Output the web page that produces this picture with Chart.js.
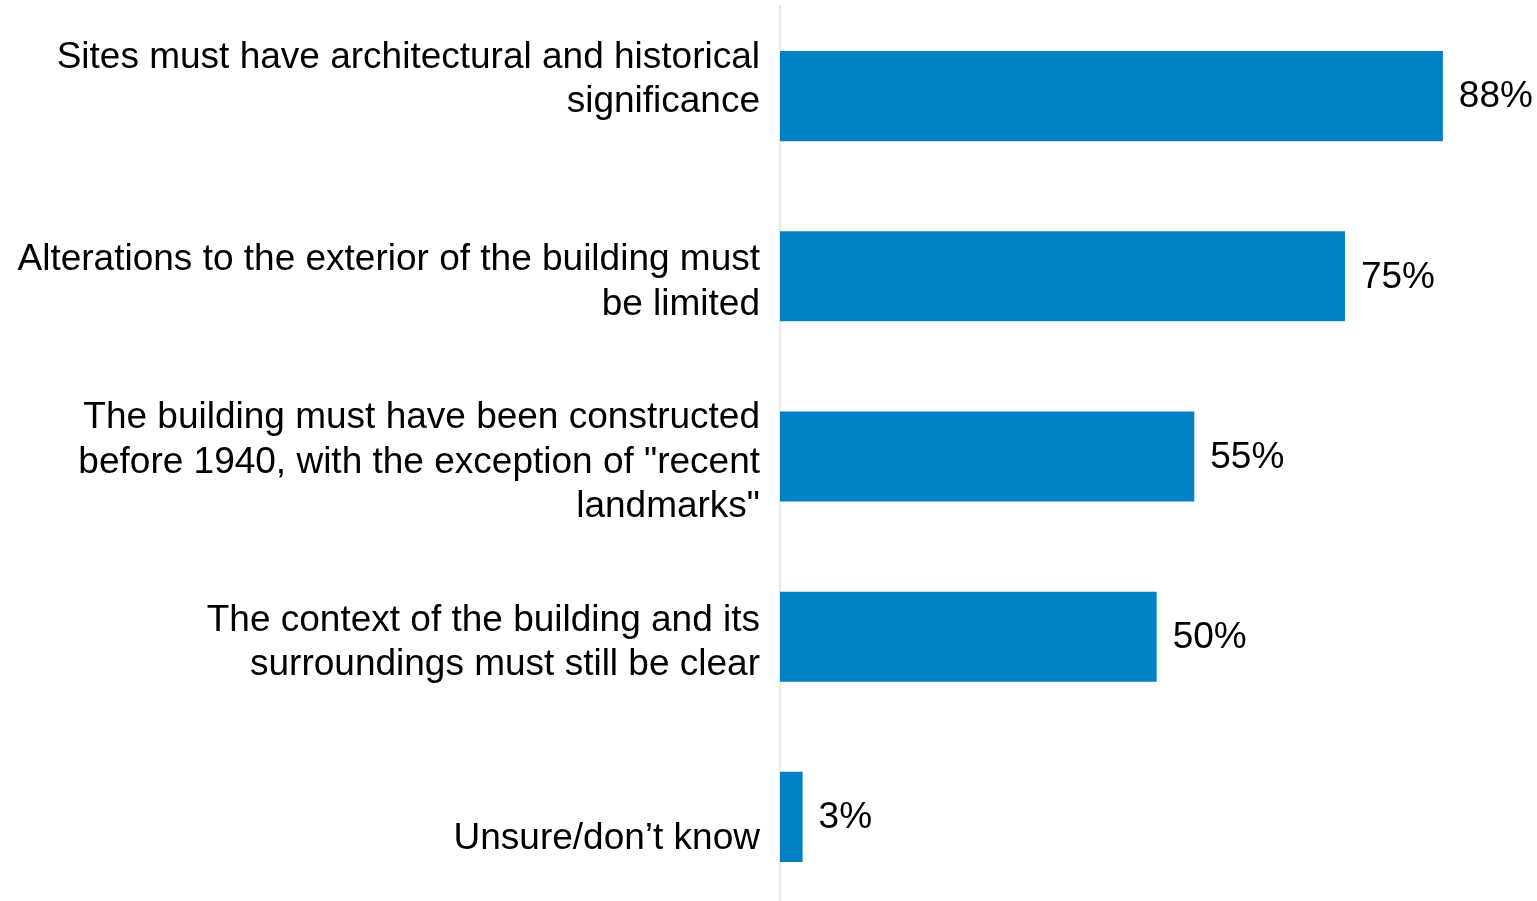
<!DOCTYPE html>
<html>
<head>
<meta charset="utf-8">
<script src="https://cdn.jsdelivr.net/npm/chart.js@4/dist/chart.umd.min.js"></script>
<style>
  html, body { margin: 0; padding: 0; background: #fff; overflow: hidden; }
  #wrap { width: 1537px; height: 908px; position: relative; }
</style>
</head>
<body>
<div id="wrap"><canvas id="criteriaChart"></canvas></div>
<script>
// categories (multi-line labels, as wrapped in the original)
const categories = [
    ["Sites must have architectural and historical", "significance", ""],
    ["Alterations to the exterior of the building must", "be limited"],
    ["The building must have been constructed", "before 1940, with the exception of \"recent", "landmarks\""],
    ["The context of the building and its", "surroundings must still be clear"],
    ["", "Unsure/don\u2019t know"]
];
const percentages = [88, 75, 55, 50, 3];
const axisMin = 0;
const axisMax = 99.7;

const barColor = "#0081c6";
const fontFamily = "'Liberation Sans', Arial, sans-serif";

// draws the "88%" style labels to the right of each bar
const valueLabels = {
    id: "valueLabels",
    afterDatasetsDraw(chart) {
        const ctx = chart.ctx;
        const meta = chart.getDatasetMeta(0);
        ctx.save();
        ctx.font = "37px " + fontFamily;
        ctx.fillStyle = "#000";
        ctx.textAlign = "left";
        ctx.textBaseline = "middle";
        meta.data.forEach((bar, i) => {
            ctx.fillText(percentages[i] + "%", bar.x + 16, bar.y + 1);
        });
        ctx.restore();
    }
};

const ctx = document.getElementById("criteriaChart").getContext("2d");
new Chart(ctx, {
    type: "bar",
    data: {
        labels: categories,
        datasets: [{
            data: percentages,
            backgroundColor: barColor,
            borderWidth: 0,
            categoryPercentage: 0.5,
            barPercentage: 1
        }]
    },
    options: {
        indexAxis: "y",
        responsive: true,
        maintainAspectRatio: false,
        animation: false,
        layout: { padding: { top: 6, right: 6, bottom: 1, left: 0 } },
        plugins: {
            legend: { display: false },
            tooltip: { enabled: false }
        },
        scales: {
            x: {
                display: false,
                min: axisMin,
                max: axisMax
            },
            y: {
                grid: { display: false, drawTicks: false },
                border: { display: true, color: "#ece8df", width: 2 },
                ticks: {
                    color: "#000",
                    padding: 20,
                    labelOffset: 6,
                    font: (c) => ({
                        family: fontFamily,
                        size: 37,
                        lineHeight: c.index === 4 ? "32px" : 1.2
                    })
                },
                afterFit(scale) {
                    scale.width = 780;
                    // labels may overflow the plot edges, as in the original
                    scale.paddingTop = 0;
                    scale.paddingBottom = 0;
                }
            }
        }
    },
    plugins: [valueLabels]
});
</script>
</body>
</html>
